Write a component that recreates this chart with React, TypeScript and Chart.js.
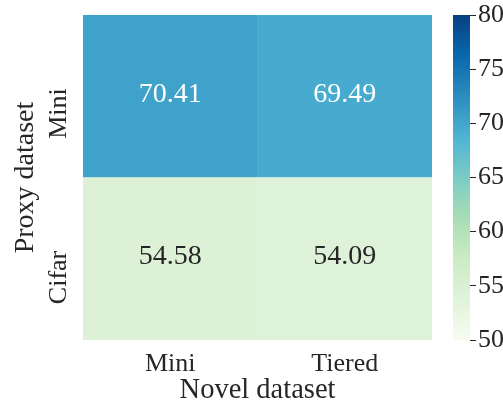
import { useEffect, useRef, useState } from 'react';
import { Chart, registerables } from 'chart.js';

Chart.register(...registerables);

// Column categories (novel dataset) and row categories (proxy dataset, top to bottom)
const novelDatasets = ['Mini', 'Tiered'];
const proxyDatasets = ['Mini', 'Cifar'];

// Accuracy per proxy row, one value per novel column
const miniRow = [70.41, 69.49];
const cifarRow = [54.58, 54.09];

// Colour scale range and colourbar ticks
const colorMin = 50;
const colorMax = 80;
const colorbarTicks = [50, 55, 60, 65, 70, 75, 80];

const GNBU = [
  '#f7fcf0', '#e0f3db', '#ccebc5', '#a8ddb5', '#7bccc4',
  '#4eb3d3', '#2b8cbe', '#0868ac', '#084081',
];

const FONT = '"Liberation Serif", serif';
const TEXT = '#262626';

function hexToRgb(h: string): number[] {
  return [1, 3, 5].map((i) => parseInt(h.slice(i, i + 2), 16));
}

function gnbuRgb(t: number): number[] {
  const c = Math.max(0, Math.min(1, t)) * (GNBU.length - 1);
  const i = Math.min(Math.floor(c), GNBU.length - 2);
  const f = c - i;
  const a = hexToRgb(GNBU[i]);
  const b = hexToRgb(GNBU[i + 1]);
  return a.map((v, k) => Math.round(v + (b[k] - v) * f));
}

function cellRgb(v: number): number[] {
  return gnbuRgb((v - colorMin) / (colorMax - colorMin));
}

function rgbStr(c: number[]): string {
  return `rgb(${c[0]}, ${c[1]}, ${c[2]})`;
}

function textColorFor(c: number[]): string {
  const lin = c.map((x) => {
    const s = x / 255;
    return s <= 0.03928 ? s / 12.92 : Math.pow((s + 0.055) / 1.055, 2.4);
  });
  const lum = 0.2126 * lin[0] + 0.7152 * lin[1] + 0.0722 * lin[2];
  return lum > 0.408 ? TEXT : '#ffffff';
}

// Rows bottom-to-top on the linear y scale: Cifar spans [0,1], Mini spans [1,2]
const rows = [
  { name: proxyDatasets[1], values: cifarRow },
  { name: proxyDatasets[0], values: miniRow },
];

const annotatePlugin = {
  id: 'cellAnnotations',
  afterDatasetsDraw(chart: any) {
    const ctx = chart.ctx;
    ctx.save();
    ctx.font = `28px ${FONT}`;
    ctx.textAlign = 'center';
    ctx.textBaseline = 'middle';
    chart.data.datasets.forEach((ds: any, di: number) => {
      const meta = chart.getDatasetMeta(di);
      meta.data.forEach((el: any, i: number) => {
        const v = ds.values[i];
        ctx.fillStyle = textColorFor(cellRgb(v));
        ctx.fillText(v.toFixed(2), el.x, (el.y + el.base) / 2 - 2);
      });
    });
    ctx.restore();
  },
};

function noEdgePadding(s: any) {
  s.paddingTop = 0;
  s.paddingBottom = 0;
  s.paddingLeft = 0;
  s.paddingRight = 0;
}

function Heatmap() {
  const ref = useRef<HTMLCanvasElement>(null);
  useEffect(() => {
    const chart = new Chart(ref.current!, {
      type: 'bar',
      data: {
        labels: novelDatasets,
        datasets: rows.map((r, ri) => ({
          label: r.name,
          values: r.values,
          data: r.values.map(() => [ri, ri + 1]),
          backgroundColor: r.values.map((v) => rgbStr(cellRgb(v))),
          borderWidth: 0,
          grouped: false,
          barPercentage: 1,
          categoryPercentage: 1,
        })) as any,
      },
      options: {
        responsive: false,
        animation: false,
        events: [],
        layout: { padding: { top: 15, right: 71, left: 0, bottom: 0 } },
        plugins: { legend: { display: false }, tooltip: { enabled: false } },
        scales: {
          x: {
            grid: { display: false, drawTicks: false },
            border: { display: false },
            ticks: { color: TEXT, font: { family: FONT, size: 26 }, padding: 9 },
            title: {
              display: true,
              text: 'Novel dataset',
              color: TEXT,
              font: { family: FONT, size: 28.5, lineHeight: 1 },
              padding: { top: 0, bottom: 0 },
            },
            afterFit: (s: any) => { s.height = 65; noEdgePadding(s); },
          },
          y: {
            min: 0,
            max: rows.length,
            grid: { display: false, drawTicks: false },
            border: { display: false },
            afterBuildTicks: (s: any) => {
              s.ticks = rows.map((_, i) => ({ value: i + 0.5 }));
            },
            ticks: {
              color: TEXT,
              font: { family: FONT, size: 26 },
              minRotation: 90,
              maxRotation: 90,
              crossAlign: 'near',
              labelOffset: -8,
              padding: 24,
              callback: (v: any) => rows[Math.floor(Number(v))].name,
            },
            title: {
              display: true,
              text: 'Proxy dataset',
              color: TEXT,
              font: { family: FONT, size: 28, lineHeight: 1 },
              padding: { top: 12, bottom: 0 },
            },
            afterFit: (s: any) => { s.width = 83; noEdgePadding(s); },
          },
        },
      },
      plugins: [annotatePlugin],
    });
    return () => chart.destroy();
  }, []);
  return (
    <canvas
      ref={ref}
      width={503}
      height={405}
      style={{ position: 'absolute', left: 0, top: 0, width: 503, height: 405 }}
    />
  );
}

function Colorbar() {
  const ref = useRef<HTMLCanvasElement>(null);
  useEffect(() => {
    const chart = new Chart(ref.current!, {
      type: 'bar',
      data: {
        labels: [''],
        datasets: [
          {
            data: [[colorMin, colorMax]] as any,
            borderWidth: 0,
            barPercentage: 1,
            categoryPercentage: 1,
            backgroundColor: (c: any) => {
              const area = c.chart.chartArea;
              if (!area) return GNBU[0];
              const g = c.chart.ctx.createLinearGradient(0, area.bottom, 0, area.top);
              GNBU.forEach((col, i) => g.addColorStop(i / (GNBU.length - 1), col));
              return g;
            },
          },
        ],
      },
      options: {
        responsive: false,
        animation: false,
        events: [],
        layout: { padding: { top: 15, bottom: 65, left: 0, right: 0 } },
        plugins: { legend: { display: false }, tooltip: { enabled: false } },
        scales: {
          x: { display: false },
          y: {
            position: 'right',
            min: colorMin,
            max: colorMax,
            afterBuildTicks: (s: any) => {
              s.ticks = colorbarTicks.map((v) => ({ value: v }));
            },
            grid: { drawOnChartArea: false, drawTicks: true, tickLength: 6, tickColor: TEXT, lineWidth: 1 },
            border: { display: false },
            ticks: { color: TEXT, font: { family: FONT, size: 26 }, padding: 2 },
            afterFit: (s: any) => { s.width = 33; noEdgePadding(s); },
          },
        },
      },
    });
    return () => chart.destroy();
  }, []);
  return (
    <canvas
      ref={ref}
      width={50}
      height={405}
      style={{ position: 'absolute', left: 453, top: 0, width: 50, height: 405 }}
    />
  );
}

export default function App() {
  const [ready, setReady] = useState(false);
  useEffect(() => {
    let alive = true;
    const done = () => { if (alive) setReady(true); };
    Promise.all([
      document.fonts.load(`26px ${FONT}`),
      document.fonts.load(`28px ${FONT}`),
    ]).then(done, done);
    return () => { alive = false; };
  }, []);
  return (
    <div
      style={{
        position: 'fixed',
        left: 0,
        top: 0,
        width: 503,
        height: 405,
        overflow: 'hidden',
        background: '#ffffff',
        fontFamily: FONT,
      }}
    >
      {ready && <Heatmap />}
      {ready && <Colorbar />}
    </div>
  );
}
